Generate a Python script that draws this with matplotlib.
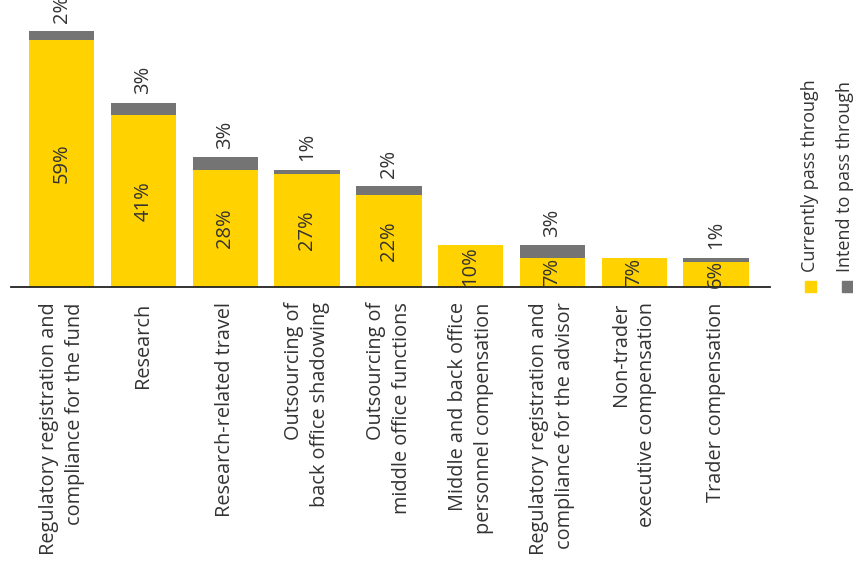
import numpy as np
import matplotlib
matplotlib.use('Agg')
import matplotlib.pyplot as plt
from matplotlib.patches import Rectangle

# Daten
kategorien = ['Regulatory registration and\ncompliance for the fund',
              'Research',
              'Research-related travel',
              'Outsourcing of\nback office shadowing',
              'Outsourcing of\nmiddle office functions',
              'Middle and back office\npersonnel compensation',
              'Regulatory registration and\ncompliance for the advisor',
              'Non-trader\nexecutive compensation',
              'Trader compensation']
aktuell = [59, 41, 28, 27, 22, 10, 7, 7, 6]
geplant = [2, 3, 3, 1, 2, 0, 3, 0, 1]
legende = ['Currently pass through', 'Intend to pass through']

gelb = '#FFD200'
grau = '#747474'
textfarbe = '#333333'

plt.rcParams['font.family'] = ['Open Sans', 'DejaVu Sans']

fig = plt.figure(figsize=(8.54, 5.67), dpi=100)
ax = fig.add_axes([11 / 854, 1 - 287 / 567, (770 - 11) / 854, 287 / 567])

x = np.arange(len(kategorien))
ax.bar(x, aktuell, width=0.8, color=gelb)
ax.bar(x, geplant, width=0.8, bottom=aktuell, color=grau)

# Beschriftungen in den Balken
for xi, a, g in zip(x, aktuell, geplant):
    ax.text(xi, a / 2, f'{a}%', rotation=90, ha='center', va='center',
            fontsize=14.5, color=textfarbe)
    if g > 0:
        ax.annotate(f'{g}%', (xi, a + g), xytext=(0, 6), textcoords='offset points',
                    rotation=90, ha='center', va='bottom', fontsize=14.5, color=textfarbe)

ax.set_xlim(-0.62, 8.66)
ax.set_ylim(0, 68.5)
ax.set_yticks([])
ax.set_xticks(x)
ax.set_xticklabels(kategorien, rotation=90, fontsize=14.3, color=textfarbe,
                   multialignment='right', linespacing=1.4)
ax.tick_params(axis='x', length=0, pad=11)
for s in ['top', 'right', 'left']:
    ax.spines[s].set_visible(False)
ax.spines['bottom'].set_color('#222222')
ax.spines['bottom'].set_linewidth(1.3)

# Legende (gedreht)
for name, farbe, xq, xt in zip(legende, [gelb, grau], [805, 842], [810, 845]):
    fig.patches.append(Rectangle((xq / 854, 1 - 292 / 567), 11 / 854, 11 / 567,
                                 transform=fig.transFigure, color=farbe))
    fig.text(xt / 854, 1 - 272 / 567, name, rotation=90, ha='center', va='bottom',
             fontsize=13, color=textfarbe)

fig.savefig('out.png', dpi=100)
